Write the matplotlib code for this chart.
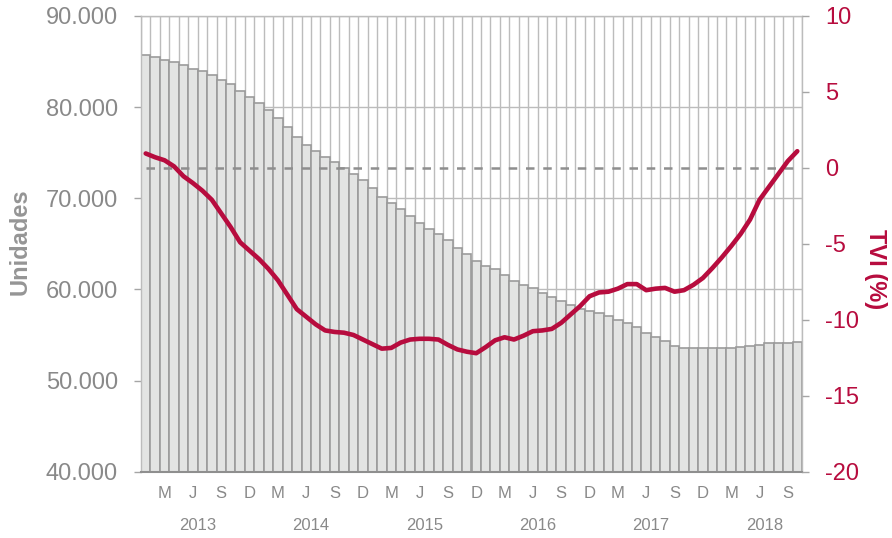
import matplotlib
matplotlib.use("Agg")
import matplotlib.pyplot as plt
import matplotlib.transforms as mtransforms
import numpy as np

plt.rcParams['font.family'] = ['Liberation Sans', 'DejaVu Sans']

# ---- data -------------------------------------------------------------
# monthly, Jan 2013 .. Oct 2018
units = [85720, 85470, 85170, 84920, 84660, 84220, 83940, 83570, 83020, 82510,
         81800, 81150, 80460, 79690, 78850, 77790, 76690, 75880, 75230, 74570,
         74010, 73350, 72670, 71970, 71090, 70100, 69450, 68790, 68090, 67250,
         66600, 66050, 65420, 64570, 63920, 63120, 62570, 62200, 61610, 60960,
         60450, 60150, 59640, 59130, 58690, 58280, 57890, 57680, 57460, 57080,
         56640, 56270, 55840, 55180, 54730, 54370, 53820, 53530, 53530, 53530,
         53530, 53530, 53530, 53640, 53790, 53940, 54080, 54080, 54110, 54260]

tvi = [0.95, 0.7, 0.5, 0.1, -0.55, -1.0, -1.5, -2.1, -3.0, -3.9,
       -4.9, -5.45, -6.0, -6.65, -7.4, -8.35, -9.3, -9.8, -10.3, -10.7,
       -10.8, -10.85, -11.0, -11.3, -11.6, -11.9, -11.85, -11.5, -11.3, -11.25,
       -11.25, -11.3, -11.65, -11.95, -12.1, -12.2, -11.8, -11.35, -11.15, -11.3,
       -11.05, -10.75, -10.7, -10.6, -10.2, -9.65, -9.1, -8.45, -8.2, -8.15,
       -7.95, -7.65, -7.65, -8.05, -7.95, -7.9, -8.15, -8.05, -7.7, -7.25,
       -6.6, -5.9, -5.15, -4.35, -3.4, -2.1, -1.25, -0.4, 0.45, 1.1]

month_letters = ['M', 'J', 'S', 'D']
month_idx_in_year = [2, 5, 8, 11]
years = ['2013', '2014', '2015', '2016', '2017', '2018']

left_ticks = [40000, 50000, 60000, 70000, 80000, 90000]
left_ticklabels = ['40.000', '50.000', '60.000', '70.000', '80.000', '90.000']
right_ticks = [-20, -15, -10, -5, 0, 5, 10]

# ---- style ------------------------------------------------------------
RED = '#b70c3e'
GRAY_TXT = '#898989'
GRID = '#bcbcbc'
BAR_FACE = '#e3e4e3'
BAR_EDGE = '#9b9b9b'

fig = plt.figure(figsize=(8.92, 5.38), dpi=100)
ax = fig.add_axes([141 / 892, (538 - 471.7) / 538, 661 / 892, (471.7 - 16) / 538])
n = len(units)
x = np.arange(n)

# vertical month grid lines
ax.vlines(np.arange(n + 1) - 0.5, 40000, 90000, colors=GRID, lw=1.0, zorder=0)
ax.set_yticks(left_ticks)
ax.set_yticklabels(left_ticklabels)
ax.yaxis.grid(True, color=GRID, lw=1.0, zorder=0)
ax.set_axisbelow(True)

ax.bar(x, units, width=1.0, bottom=0, color=BAR_FACE, edgecolor=BAR_EDGE,
       linewidth=1.2, zorder=2)
ax.set_xlim(-0.5, n - 0.5)
ax.set_ylim(40000, 90000)

for s in ['left', 'top', 'right']:
    ax.spines[s].set_color(GRID)
    ax.spines[s].set_linewidth(1.0)
ax.spines['bottom'].set_color('#8f8f8f')
ax.spines['bottom'].set_linewidth(1.5)
ax.spines['bottom'].set_zorder(5)

ax.tick_params(axis='y', colors='#a5a5a5', labelcolor=GRAY_TXT, labelsize=17,
               length=5, width=1, pad=11.5)
ax.tick_params(axis='x', length=0, labelbottom=False)

# month letters and years
trans = mtransforms.blended_transform_factory(ax.transData, ax.transAxes)
for y_i in range(len(years)):
    for k, letter in zip(month_idx_in_year, month_letters):
        idx = 12 * y_i + k
        if idx < n:
            ax.annotate(letter, xy=(idx, 0), xycoords=trans, xytext=(0, -15.5),
                        textcoords='offset points', ha='center', va='center',
                        fontsize=12, color=GRAY_TXT)
    ax.annotate(years[y_i], xy=(12 * y_i + 5.5, 0), xycoords=trans,
                xytext=(0, -38.5), textcoords='offset points', ha='center',
                va='center', fontsize=12, color=GRAY_TXT)

# right axis
ax2 = ax.twinx()
ax2.set_ylim(-20, 10)
ax2.set_yticks(right_ticks)
ax2.set_yticklabels([str(t) for t in right_ticks])
ax2.tick_params(axis='y', colors='#a5a5a5', labelcolor=RED, labelsize=17,
                length=5, width=1, pad=11.5)
for s in ax2.spines.values():
    s.set_visible(False)

ax2.hlines(0, x[0], x[-1], colors='#8e8e8e', lw=1.8, linestyles=(0, (3.4, 3.5)),
           zorder=3)
ax2.plot(x, tvi, color=RED, lw=3.3, solid_capstyle='round',
         solid_joinstyle='round', zorder=4)

fig.text(20 / 892, 1 - 242 / 538, 'Unidades', rotation=90, ha='center',
         va='center', fontsize=17, fontweight='bold', color='#959595')
fig.text(875 / 892, 1 - 269 / 538, 'TVI (%)', rotation=-90, ha='center',
         va='center', fontsize=17, fontweight='bold', color=RED)

fig.savefig('out.png', dpi=100)
